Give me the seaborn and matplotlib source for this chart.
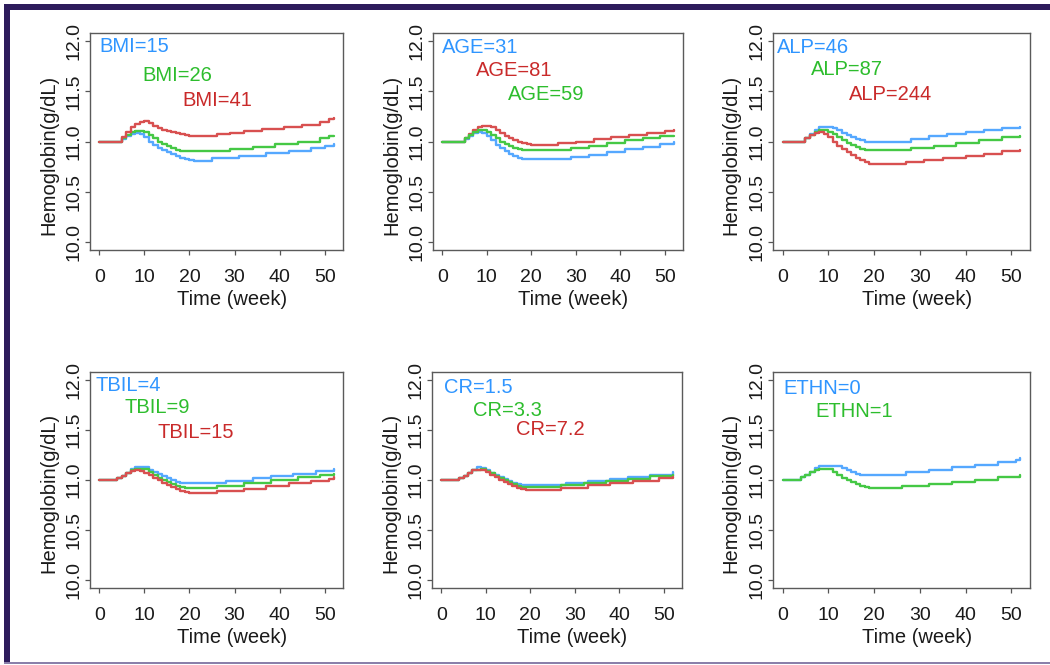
import matplotlib
matplotlib.use("Agg")
import matplotlib.pyplot as plt
from matplotlib.patches import Rectangle
import seaborn as sns
import pandas as pd

# ---------------- data ----------------
# Panel 1: BMI
BMI15_t = [0,4,5,6,7,8,9,10,11,12,13,14,15,16,17,18,19,20,21,25,31,37,42,47,50,52]
BMI15_v = [11.0,11.0,11.02,11.05,11.07,11.08,11.07,11.04,11.0,10.97,10.94,10.92,10.9,10.88,10.86,10.84,10.83,10.82,10.81,10.84,10.86,10.89,10.91,10.935,10.96,10.975]
BMI26_t = [0,4,5,6,7,8,10,11,12,13,14,15,16,17,18,29,34,39,44,49,51,52]
BMI26_v = [11.0,11.0,11.03,11.06,11.09,11.10,11.09,11.06,11.03,11.0,10.98,10.96,10.94,10.92,10.91,10.93,10.95,10.98,11.0,11.03,11.05,11.055]
BMI41_t = [0,4,5,6,7,8,9,10,11,12,13,14,15,16,17,18,19,20,26,29,32,36,41,45,49,51,52]
BMI41_v = [11.0,11.0,11.04,11.09,11.14,11.17,11.19,11.20,11.18,11.15,11.13,11.11,11.10,11.09,11.08,11.07,11.06,11.05,11.07,11.08,11.10,11.12,11.14,11.16,11.19,11.22,11.23]

# Panel 2: AGE
AGE31_t = [0,4,5,6,7,8,9,10,11,12,13,14,15,16,17,18,29,33,37,41,45,49,52]
AGE31_v = [11.0,11.0,11.02,11.05,11.08,11.09,11.08,11.05,11.01,10.97,10.94,10.91,10.88,10.86,10.84,10.83,10.85,10.87,10.90,10.93,10.95,10.98,11.0]
AGE59_t = [0,4,5,6,7,8,9,10,11,12,13,14,15,16,17,18,29,33,37,41,45,49,52]
AGE59_v = [11.0,11.0,11.03,11.06,11.09,11.11,11.11,11.09,11.06,11.03,11.0,10.98,10.96,10.94,10.93,10.92,10.94,10.96,10.99,11.01,11.03,11.05,11.055]
AGE81_t = [0,4,5,6,7,8,9,10,11,12,13,14,15,16,17,18,19,20,26,30,34,38,42,46,50,52]
AGE81_v = [11.0,11.0,11.03,11.07,11.11,11.14,11.15,11.15,11.14,11.11,11.08,11.05,11.03,11.01,11.0,10.99,10.98,10.97,10.99,11.0,11.02,11.04,11.06,11.08,11.10,11.11]

# Panel 3: ALP
ALP46_t = [0,4,5,6,7,8,11,12,13,14,15,16,17,18,28,32,36,40,44,48,52]
ALP46_v = [11.0,11.0,11.03,11.07,11.11,11.14,11.13,11.11,11.08,11.06,11.04,11.02,11.01,11.0,11.02,11.05,11.07,11.09,11.11,11.13,11.14]
ALP87_t = [0,4,5,6,7,8,9,10,11,12,13,14,15,16,17,18,28,33,38,43,48,52]
ALP87_v = [11.0,11.0,11.03,11.06,11.09,11.11,11.11,11.09,11.07,11.04,11.01,10.99,10.97,10.95,10.93,10.92,10.94,10.96,10.99,11.01,11.04,11.055]
ALP244_t = [0,4,5,6,7,8,9,10,11,12,13,14,15,16,17,18,19,27,31,35,40,44,48,52]
ALP244_v = [11.0,11.0,11.03,11.06,11.08,11.09,11.07,11.04,11.0,10.96,10.93,10.90,10.87,10.84,10.82,10.80,10.78,10.80,10.82,10.84,10.86,10.88,10.91,10.92]

# Panel 4: TBIL
TBIL4_t = [0,3,4,5,6,7,8,10,11,12,13,14,15,16,17,18,28,34,38,43,48,52]
TBIL4_v = [11.0,11.0,11.02,11.04,11.07,11.11,11.13,11.13,11.10,11.08,11.06,11.04,11.02,11.0,10.98,10.97,10.99,11.02,11.04,11.06,11.09,11.11]
TBIL9_t = [0,3,4,5,6,7,8,10,11,12,13,14,15,16,17,18,19,26,32,38,44,49,52]
TBIL9_v = [11.0,11.0,11.02,11.04,11.07,11.10,11.11,11.11,11.08,11.05,11.02,11.0,10.98,10.96,10.94,10.93,10.92,10.94,10.97,11.0,11.03,11.05,11.055]
TBIL15_t = [0,3,4,5,6,7,8,9,10,11,12,13,14,15,16,17,18,19,20,26,32,37,42,47,51,52]
TBIL15_v = [11.0,11.0,11.02,11.04,11.07,11.09,11.10,11.09,11.07,11.05,11.02,11.0,10.97,10.95,10.93,10.91,10.89,10.88,10.87,10.89,10.91,10.94,10.97,10.99,11.01,11.025]

# Panel 5: CR
CR15_t = [0,3,4,5,6,7,8,9,10,11,12,13,14,15,16,17,18,28,33,38,42,47,52]
CR15_v = [11.0,11.0,11.02,11.04,11.07,11.10,11.13,11.12,11.10,11.07,11.05,11.03,11.01,10.99,10.97,10.96,10.95,10.97,10.99,11.01,11.03,11.05,11.08]
CR33_t = [0,3,4,5,6,7,9,10,11,12,13,14,15,16,17,18,27,32,37,42,47,52]
CR33_v = [11.0,11.0,11.02,11.04,11.07,11.10,11.11,11.09,11.07,11.04,11.02,11.0,10.98,10.96,10.94,10.93,10.95,10.97,10.99,11.01,11.04,11.05]
CR72_t = [0,3,4,5,6,7,9,10,11,12,13,14,15,16,17,18,19,27,33,38,43,49,52]
CR72_v = [11.0,11.0,11.02,11.04,11.07,11.10,11.10,11.08,11.05,11.03,11.0,10.98,10.96,10.94,10.92,10.91,10.90,10.92,10.95,10.97,10.99,11.02,11.03]

# Panel 6: ETHN
ETHN0_t = [0,3,4,5,6,7,8,13,14,15,16,17,27,32,37,42,47,51,52]
ETHN0_v = [11.0,11.0,11.03,11.05,11.08,11.12,11.14,11.12,11.10,11.08,11.06,11.05,11.08,11.10,11.13,11.15,11.18,11.20,11.22]
ETHN1_t = [0,3,4,5,6,7,8,10,11,12,13,14,15,16,17,18,19,26,32,37,42,47,52]
ETHN1_v = [11.0,11.0,11.03,11.05,11.08,11.10,11.11,11.11,11.08,11.05,11.02,11.0,10.98,10.96,10.94,10.93,10.92,10.94,10.96,10.98,11.0,11.03,11.05]

X_TICKS = [0, 10, 20, 30, 40, 50]
Y_TICKS = [10.0, 10.5, 11.0, 11.5, 12.0]
Y_TICK_LABELS = ["10.0", "10.5", "11.0", "11.5", "12.0"]
X_LABEL = "Time (week)"
Y_LABEL = "Hemoglobin(g/dL)"

# panel: list of (label, colour key, times, values)
PANELS = [
    [("BMI=15", "blue", BMI15_t, BMI15_v), ("BMI=26", "green", BMI26_t, BMI26_v), ("BMI=41", "red", BMI41_t, BMI41_v)],
    [("AGE=31", "blue", AGE31_t, AGE31_v), ("AGE=81", "red", AGE81_t, AGE81_v), ("AGE=59", "green", AGE59_t, AGE59_v)],
    [("ALP=46", "blue", ALP46_t, ALP46_v), ("ALP=87", "green", ALP87_t, ALP87_v), ("ALP=244", "red", ALP244_t, ALP244_v)],
    [("TBIL=4", "blue", TBIL4_t, TBIL4_v), ("TBIL=9", "green", TBIL9_t, TBIL9_v), ("TBIL=15", "red", TBIL15_t, TBIL15_v)],
    [("CR=1.5", "blue", CR15_t, CR15_v), ("CR=3.3", "green", CR33_t, CR33_v), ("CR=7.2", "red", CR72_t, CR72_v)],
    [("ETHN=0", "blue", ETHN0_t, ETHN0_v), ("ETHN=1", "green", ETHN1_t, ETHN1_v)],
]

# ---------------- layout / style ----------------
# annotation anchor positions (data coords, left/centre)
ANNOT_POS = [
    [(0.0, 11.95), (9.5, 11.66), (18.4, 11.41)],
    [(0.0, 11.94), (7.6, 11.71), (14.7, 11.47)],
    [(-1.3, 11.94), (6.3, 11.72), (14.6, 11.47)],
    [(-0.9, 11.95), (5.6, 11.72), (12.8, 11.47)],
    [(0.7, 11.92), (7.2, 11.69), (16.7, 11.50)],
    [(0.1, 11.91), (7.1, 11.68)],
]
LINE_COL = {"blue": "#55a8ff", "green": "#45c845", "red": "#d85050"}
TEXT_COL = {"blue": "#2f95ff", "green": "#2dbd2d", "red": "#c92a2a"}

W, H = 1050, 665
AX_PX = [(90, 33, 253, 217), (433, 33, 250, 217), (773, 33, 257, 217),
         (90, 372, 253, 216), (432, 372, 250, 216), (773, 372, 257, 216)]

sns.set_theme(style="white")
plt.rcParams["font.family"] = ["Liberation Sans", "DejaVu Sans"]

fig = plt.figure(figsize=(W / 100, H / 100), dpi=100)
fig.patch.set_facecolor("white")

for i, curves in enumerate(PANELS):
    x0, y0, w, h = AX_PX[i]
    ax = fig.add_axes([x0 / W, 1 - (y0 + h) / H, w / W, h / H])
    rows = []
    for lab, ck, ts, vs in curves:
        for t, v in zip(ts, vs):
            rows.append({"time": t, "hgb": v, "grp": lab})
    df = pd.DataFrame(rows)
    pal = {lab: LINE_COL[ck] for lab, ck, _, _ in curves}
    sns.lineplot(data=df, x="time", y="hgb", hue="grp", palette=pal,
                 estimator=None, legend=False, drawstyle="steps-post",
                 linewidth=1.7, ax=ax)
    for (lab, ck, _, _), (ax_x, ax_y) in zip(curves, ANNOT_POS[i]):
        ax.text(ax_x, ax_y, lab, color=TEXT_COL[ck], fontsize=14.5,
                ha="left", va="center")
    ax.set_xlim(-2.08, 54.08)
    ax.set_ylim(9.92, 12.08)
    ax.set_xticks(X_TICKS)
    ax.set_xticklabels([str(v) for v in X_TICKS], fontsize=14, color="#1a1a1a")
    ax.set_yticks(Y_TICKS)
    ax.set_yticklabels(Y_TICK_LABELS, rotation=90, va="center", fontsize=14, color="#1a1a1a")
    ax.tick_params(axis="x", direction="out", length=3.6, width=0.9, pad=10.0, color="#555555", bottom=True)
    ax.tick_params(axis="y", direction="out", length=3.6, width=0.9, pad=2.0, color="#555555", left=True)
    for sp in ax.spines.values():
        sp.set_color("#5a5a5a")
        sp.set_linewidth(1.0)
        sp.set_visible(True)
    ax.set_xlabel(X_LABEL, fontsize=14.5, color="#1a1a1a")
    ax.set_ylabel(Y_LABEL, fontsize=14.5, color="#1a1a1a")
    ax.xaxis.set_label_coords(0.56, -0.183)
    ax.yaxis.set_label_coords(-0.125, 0.44)
    ax.set_facecolor("white")
    ax.grid(False)

# slide frame
DARK = "#2d1c5c"
fig.add_artist(Rectangle((4 / W, 1 - 10 / H), 1 - 4 / W, 6 / H, transform=fig.transFigure,
                         facecolor=DARK, edgecolor="none"))
fig.add_artist(Rectangle((4 / W, 1 - 664 / H), 6 / W, 660 / H, transform=fig.transFigure,
                         facecolor=DARK, edgecolor="none"))
fig.add_artist(Rectangle((4 / W, 1 - 664 / H), 1 - 4 / W, 2 / H, transform=fig.transFigure,
                         facecolor="#8a80aa", edgecolor="none"))

fig.savefig("out.png", dpi=100, facecolor="white")
